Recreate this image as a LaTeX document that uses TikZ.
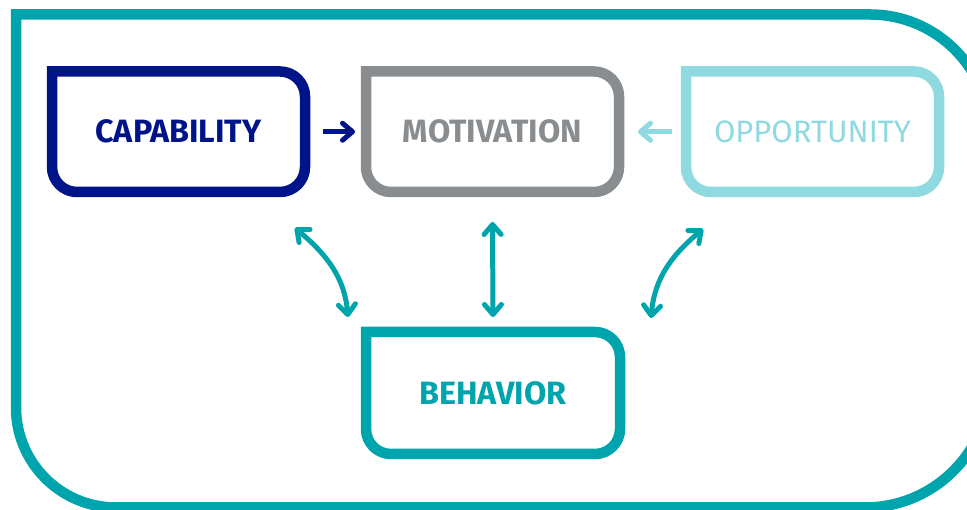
\documentclass[tikz,border=0pt]{standalone}
\usepackage{fontspec}
\setmainfont{Fira Sans}
\usetikzlibrary{arrows.meta}
\definecolor{teal}{RGB}{0,164,173}
\definecolor{navy}{RGB}{0,20,137}
\definecolor{greyc}{RGB}{138,141,143}
\definecolor{lteal}{RGB}{143,217,224}
\newcommand\cornerbox[2]{\draw[line width=10.5pt,#2] (#1.north west) -- ([xshift=-25pt]#1.north east) arc[start angle=90,end angle=0,radius=25pt] -- ([yshift=25pt]#1.south east) arc[start angle=0,end angle=-90,radius=25pt] -- ([xshift=25pt]#1.south west) arc[start angle=270,end angle=180,radius=25pt] -- cycle;}
\tikzset{
  boxnode/.style={inner sep=0pt, outer sep=0pt, minimum width=253pt, minimum height=120.5pt, font=\fontsize{32.3}{32}\selectfont\bfseries},
  conn/.style={line width=5pt, -{Straight Barb[length=10pt,width=17pt,line cap=round,line join=round]}},
  dconn/.style={line width=5pt, {Straight Barb[length=10pt,width=17pt,line cap=round,line join=round]}-{Straight Barb[length=10pt,width=17pt,line cap=round,line join=round]}, teal},
  frame/.style={line width=10.5pt, teal}
}
\begin{document}
\begin{tikzpicture}[x=1pt,y=1pt]
\useasboundingbox (0,0) rectangle (967,510);
\clip (0,0) rectangle (967,510);
\draw[frame] (16,495.5) -- (870,495.5) arc[start angle=90,end angle=0,radius=120pt] -- (990,127.5) arc[start angle=0,end angle=-90,radius=125pt] -- (116,2.5) arc[start angle=270,end angle=180,radius=100pt] -- cycle;
\node[boxnode, text=navy] (cap) at (178.5,378.25) {CAPABILITY};
\node[boxnode, text=greyc] (mot) at (492.5,378.25) {MOTIVATION};
\node[boxnode, text=lteal, font=\fontsize{31}{31}\selectfont] (opp) at (812.5,378.25) {OPPORTUNITY};
\node[boxnode, text=teal, minimum width=254pt, minimum height=122pt] (beh) at (493,117) {BEHAVIOR};
\cornerbox{cap}{navy}
\cornerbox{mot}{greyc}
\cornerbox{opp}{lteal}
\cornerbox{beh}{teal}
\draw[conn, navy] ([xshift=18pt]cap.east) -- ([xshift=-11pt]mot.west);
\draw[conn, lteal] ([xshift=-14pt]opp.west) -- ([xshift=19pt]mot.east);
\draw[dconn] ([yshift=-30pt]mot.south) -- ([yshift=15pt]beh.north);
\draw[dconn] ([shift={(-10pt,-36pt)}]cap.south east) to[out=-40,in=95] ([shift={(-18pt,15pt)}]beh.north west);
\draw[dconn] ([shift={(17pt,-37pt)}]opp.south west) to[out=220,in=85] ([shift={(31pt,14pt)}]beh.north east);
\end{tikzpicture}
\end{document}
